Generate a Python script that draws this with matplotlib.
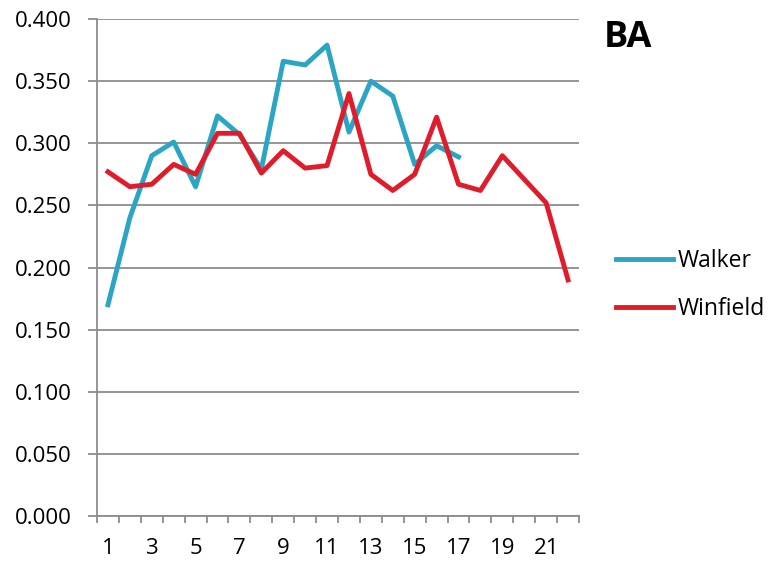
import matplotlib
matplotlib.use("Agg")
import matplotlib.pyplot as plt
import numpy as np

plt.rcParams["font.family"] = ["Open Sans", "DejaVu Sans"]

# series values (one per sample index)
walker = [0.170, 0.240, 0.290, 0.301, 0.265, 0.322, 0.307, 0.279, 0.366, 0.363,
          0.379, 0.309, 0.350, 0.338, 0.283, 0.298, 0.289]
winfield = [0.277, 0.265, 0.267, 0.283, 0.275, 0.308, 0.308, 0.276, 0.294, 0.280,
            0.282, 0.340, 0.275, 0.262, 0.275, 0.321, 0.267, 0.262, 0.290, 0.271,
            0.252, 0.190]
categories = list(range(1, 23))
y_ticks = [0.0, 0.05, 0.10, 0.15, 0.20, 0.25, 0.30, 0.35, 0.40]

walker_color = "#2ba5c4"
winfield_color = "#e01b2a"
grey = "#8c8c8c"

fig = plt.figure(figsize=(7.69, 5.65), dpi=100)
ax = fig.add_axes([97 / 769, 1 - 516 / 565, (579 - 97) / 769, (516 - 19) / 565])

ax.plot(categories[:len(walker)], walker, color=walker_color, lw=3.5,
        solid_joinstyle="round", label="Walker", zorder=3)
ax.plot(categories, winfield, color=winfield_color, lw=3.5,
        solid_joinstyle="round", label="Winfield", zorder=4)

ax.set_xlim(0.5, 22.5)
ax.set_ylim(0, 0.4)
ax.set_yticks(y_ticks)
ax.set_yticklabels([f"{v:.3f}" for v in y_ticks])
ax.set_xticks(categories[::2])
ax.set_xticklabels([str(c) for c in categories[::2]])
ax.set_xticks(np.arange(0.5, 23, 1.0), minor=True)

ax.grid(axis="y", color=grey, lw=1.3, zorder=0)
ax.set_axisbelow(True)
for s in ("top", "right"):
    ax.spines[s].set_visible(False)
for s in ("left", "bottom"):
    ax.spines[s].set_color(grey)
    ax.spines[s].set_linewidth(1.3)

ax.tick_params(axis="y", length=6.5, width=1.3, color=grey, pad=12,
               labelsize=16, labelcolor="black")
ax.tick_params(axis="x", which="major", length=0, pad=16, labelsize=16,
               labelcolor="black")
ax.tick_params(axis="x", which="minor", length=5, width=1.3, color=grey)

fig.text(604 / 769, 1 - 38 / 565, "BA", fontsize=26, fontweight="bold",
         va="center", ha="left")

fig.legend(loc="center left", bbox_to_anchor=(616 / 769, 1 - 285 / 565),
           frameon=False, fontsize=16.5, handlelength=2.5, handletextpad=0.2,
           labelspacing=1.05, borderpad=0, borderaxespad=0)

fig.savefig("out.png", dpi=100)
plt.close(fig)
